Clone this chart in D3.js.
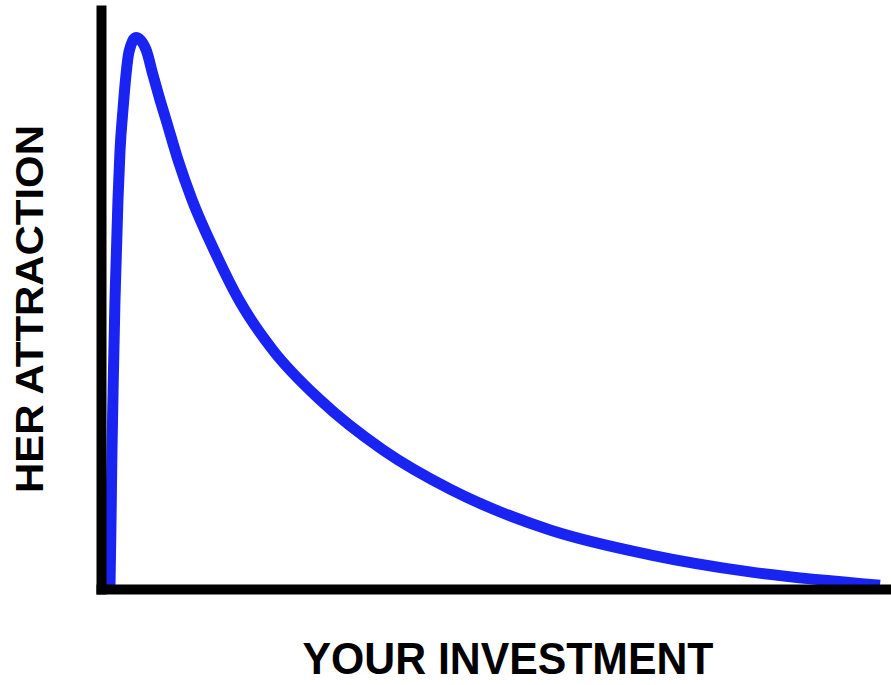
<!DOCTYPE html>
<html>
<head>
<meta charset="utf-8">
<script src="https://cdn.jsdelivr.net/npm/d3@7"></script>
<style>
  body { margin: 0; background: #fff; }
  svg { display: block; }
  .label { font-family: "Liberation Sans", Arial, sans-serif; font-weight: bold; fill: #000; }
</style>
</head>
<body>
<div class="chart"></div>
<script>
// curve: investment (0-100) vs attraction (0-100)
var investment = [1.14, 1.27, 1.39, 1.58, 1.77, 2.15, 2.41, 2.78, 3.16, 3.54, 4.43, 5.70, 6.58, 7.47, 8.23,
                  9.75, 11.52, 14.30, 17.47, 21.77, 27.72, 35.70, 44.18, 56.84, 69.49, 82.15, 98.61];
var attraction = [0.5, 12.5, 25.2, 39.7, 52.4, 70.6, 79.6, 86.9, 93.2, 97.4, 100, 97.8, 93.2, 88.7, 85.1,
                  77.8, 70.6, 61.5, 52.4, 43.3, 34.3, 25.2, 18.1, 10.7, 6.2, 3.1, 0.7];

var xLabel = "YOUR INVESTMENT";
var yLabel = "HER ATTRACTION";

var svgWidth = 891;
var svgHeight = 685;

var svg = d3.select(".chart")
  .append("svg")
  .attr("width", svgWidth)
  .attr("height", svgHeight);

var points = investment.map(function(x, i) {
  return { x: x, y: attraction[i] };
});

var xScale = d3.scaleLinear()
  .domain([0, 100])
  .range([101, 891]);

var yScale = d3.scaleLinear()
  .domain([0, 105])
  .range([589, 10]);

// the curve
var line = d3.line()
  .x(d => xScale(d.x))
  .y(d => yScale(d.y))
  .curve(d3.curveMonotoneX);

svg.append("path")
  .datum(points)
  .attr("d", line)
  .attr("fill", "none")
  .attr("stroke", "#1923f2")
  .attr("stroke-width", 11)
  .attr("stroke-linejoin", "round");

// bare axes, no ticks
var bottomAxis = d3.axisBottom(xScale).tickValues([]).tickSizeOuter(0);
var leftAxis = d3.axisLeft(yScale).tickValues([]).tickSizeOuter(0);

svg.append("g")
  .attr("transform", "translate(0, 589)")
  .call(bottomAxis);

svg.append("g")
  .attr("transform", "translate(101, 0)")
  .call(leftAxis);

svg.selectAll(".domain")
  .attr("stroke", "#000")
  .attr("stroke-width", 10)
  .attr("stroke-linecap", "square");

// axis titles
svg.append("text")
  .attr("class", "label")
  .attr("x", 508)
  .attr("y", 674)
  .attr("text-anchor", "middle")
  .attr("font-size", 45)
  .attr("textLength", 411)
  .attr("lengthAdjust", "spacingAndGlyphs")
  .text(xLabel);

svg.append("text")
  .attr("class", "label")
  .attr("transform", "translate(43, 309) rotate(-90)")
  .attr("text-anchor", "middle")
  .attr("font-size", 39)
  .attr("textLength", 368)
  .attr("lengthAdjust", "spacingAndGlyphs")
  .text(yLabel);
</script>
</body>
</html>
